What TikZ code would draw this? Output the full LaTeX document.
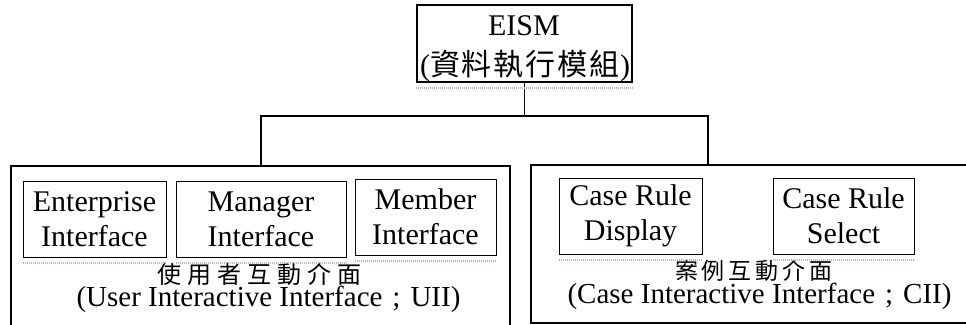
\documentclass[tikz,border=0pt]{standalone}
\usepackage{fontspec}
\setmainfont{Liberation Serif}
\newfontfamily\cjk{Noto Sans CJK TC}
\definecolor{spellblue}{RGB}{160,188,228}
\newcommand{\fwopen}{\hspace{17pt}(}
\newcommand{\fwsemi}{\hspace{10pt};\hspace{10pt}}
\begin{document}
\begin{tikzpicture}[x=1pt,y=-1pt,
  boxA/.style={draw=black, line width=1pt, rectangle, inner sep=0pt, align=center, font=\fontsize{30}{35}\selectfont},
  bigbox/.style={draw=black, line width=1.8pt, rectangle, inner sep=0pt},
  conn/.style={draw=black, line width=1.8pt},
  spell/.style={draw=spellblue, line width=2pt, dash pattern=on 1pt off 1pt},
  lbl/.style={inner sep=0pt, anchor=base, font=\fontsize{29}{35}\selectfont}]
\useasboundingbox (0,0) rectangle (966,324);
\clip (0,0) rectangle (966,324);
% top box
\node[boxA, line width=1.2pt, minimum width=215pt, minimum height=77pt] (eism) at (524.5,43.5) {};
\node[lbl, font=\fontsize{30}{35}\selectfont] (eismA) at (524,35) {EISM};
\node[lbl, font=\fontsize{30}{35}\selectfont, text depth=0pt] (eismB) at (525,75) {({\cjk 資\hspace{2pt}料\hspace{2pt}執\hspace{2pt}行\hspace{2pt}模\hspace{2pt}組})};
% group boxes
\node[bigbox, minimum width=499pt, minimum height=180pt] (uiBox) at (260.5,256) {};
\node[bigbox, minimum width=460pt, minimum height=158pt] (ciBox) at (761,244) {};
% inner boxes
\node[boxA, minimum width=143pt, minimum height=76pt] (ent) at (94.5,219) {Enterprise\\Interface};
\node[boxA, minimum width=170pt, minimum height=76pt] (mgr) at (261,219) {Manager\\Interface};
\node[boxA, minimum width=141pt, minimum height=76pt] (mem) at (425.5,217) {Member\\Interface};
\node[boxA, minimum width=143pt, minimum height=76pt] (dsp) at (630.5,216) {Case Rule\\Display};
\node[boxA, minimum width=141pt, minimum height=76pt] (sel) at (843.5,216) {Case Rule\\Select};
% labels
\node[lbl, font=\cjk\fontsize{24}{30}\selectfont, text depth=0pt] (uiiA) at (259.5,283) {使\hspace{6pt}用\hspace{6pt}者\hspace{6pt}互\hspace{6pt}動\hspace{6pt}介\hspace{6pt}面};
\node[lbl, text height=14pt] (uiiB) at (260,306) {\fwopen User Interactive Interface\fwsemi UII)};
\node[lbl, font=\cjk\fontsize{23}{28}\selectfont, text depth=0pt] (ciiA) at (754,279) {案\hspace{4pt}例\hspace{4pt}互\hspace{4pt}動\hspace{4pt}介\hspace{4pt}面};
\node[lbl, text height=14pt] (ciiB) at (751,303) {\fwopen Case Interactive Interface\fwsemi CII)};
% connectors
\coordinate (jL) at (261,116);
\coordinate (jR) at (708,116);
\draw[conn] (eism.south) -- (eism.south |- jL);
\draw[conn] (jL |- uiBox.north) -- (jL) -- (jR) -- (jR |- ciBox.north);
% spell-check underlines
\foreach \n in {eism,ent,mgr,mem,dsp,sel}
  \draw[spell] ([yshift=-5pt]\n.south west) -- ([yshift=-5pt]\n.south east);
\end{tikzpicture}
\end{document}
